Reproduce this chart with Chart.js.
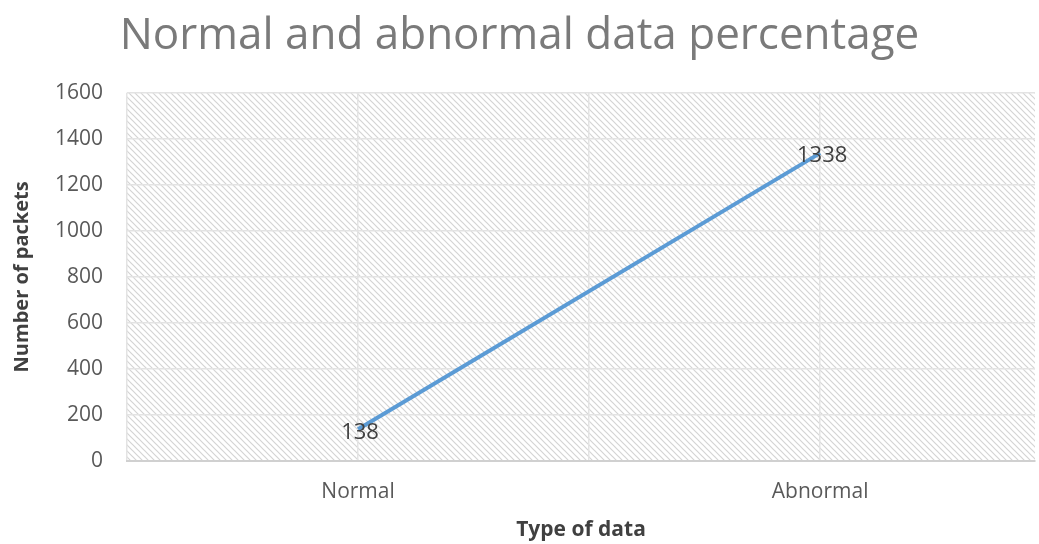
<!DOCTYPE html>
<html lang="en">
<head>
  <meta charset="UTF-8">
  <title>Normal and abnormal data percentage</title>
  <script src="https://cdn.jsdelivr.net/npm/chart.js"></script>
  <style>
    html, body { margin: 0; padding: 0; background: #fff; overflow: hidden; }
    #box { width: 1039px; height: 544px; }
  </style>
</head>
<body>
  <div id="box"><canvas id="myChart"></canvas></div>

<script>
  const categorias = ['Normal', 'Abnormal'];
  const pacotes = [138, 1338];
  const yTicks = [0, 200, 400, 600, 800, 1000, 1200, 1400, 1600];

  // fundo hachurado da area do grafico
  function criarHachura() {
    const c = document.createElement('canvas');
    c.width = 6; c.height = 6;
    const g = c.getContext('2d');
    g.fillStyle = '#ffffff';
    g.fillRect(0, 0, 6, 6);
    g.strokeStyle = '#d4d4d4';
    g.lineWidth = 1.2;
    g.beginPath();
    g.moveTo(-1, -1); g.lineTo(7, 7);
    g.moveTo(-1, 5); g.lineTo(1, 7);
    g.moveTo(5, -1); g.lineTo(7, 1);
    g.stroke();
    return g.createPattern(c, 'repeat');
  }

  const hachura = {
    id: 'hachura',
    beforeDraw(chart) {
      const a = chart.chartArea;
      const ctx = chart.ctx;
      ctx.save();
      ctx.fillStyle = criarHachura();
      ctx.fillRect(a.left, a.top, a.right - a.left, a.bottom - a.top);
      ctx.restore();
    }
  };

  // rotulos com os valores em cima dos pontos
  const rotulos = {
    id: 'rotulos',
    afterDatasetsDraw(chart) {
      const ctx = chart.ctx;
      const meta = chart.getDatasetMeta(0);
      ctx.save();
      ctx.font = '22px "Open Sans", sans-serif';
      ctx.fillStyle = '#404040';
      ctx.textAlign = 'center';
      ctx.textBaseline = 'middle';
      meta.data.forEach(function (p, i) {
        ctx.fillText(String(pacotes[i]), p.x + 2, p.y + 3);
      });
      ctx.restore();
    }
  };

  const ctx = document.getElementById('myChart');

  new Chart(ctx, {
    type: 'line',
    data: {
      datasets: [{
        label: 'Number of packets',
        data: pacotes.map(function (v, i) { return { x: i, y: v }; }),
        borderColor: '#5b9bd5',
        borderWidth: 4,
        pointRadius: 0,
        tension: 0
      }]
    },
    options: {
      responsive: true,
      maintainAspectRatio: false,
      animation: false,
      layout: { padding: { left: 4, right: 4, top: 0, bottom: 0 } },
      plugins: {
        legend: { display: false },
        tooltip: { enabled: false },
        title: {
          display: true,
          text: 'Normal and abnormal data percentage',
          color: '#7a7a7a',
          font: { family: '"Open Sans", sans-serif', size: 44, weight: 'normal' },
          padding: { top: 10, bottom: 30 }
        }
      },
      scales: {
        x: {
          type: 'linear',
          min: -0.5,
          max: 1.465, // o grafico original esta cortado na direita
          afterBuildTicks(axis) {
            axis.ticks = [-0.5, 0, 0.5, 1].map(function (v) { return { value: v }; });
          },
          grid: { color: '#e3e3e3', lineWidth: 1.5, drawTicks: false },
          border: { color: '#d0d0d0', width: 2 },
          ticks: {
            color: '#595959',
            padding: 18,
            font: { family: '"Open Sans", sans-serif', size: 21 },
            callback: function (v) {
              return Number.isInteger(v) ? categorias[v] : '';
            }
          },
          title: {
            display: true,
            text: 'Type of data',
            color: '#404040',
            font: { family: '"Open Sans", sans-serif', size: 21, weight: 'bold' },
            padding: { top: 14, bottom: 1 }
          },
          afterFit(axis) {
            axis.height = 83;
            axis.paddingLeft = 0;
            axis.paddingRight = 0;
          }
        },
        y: {
          min: 0,
          max: 1600,
          afterBuildTicks(axis) {
            axis.ticks = yTicks.map(function (v) { return { value: v }; });
          },
          grid: { color: '#e3e3e3', lineWidth: 1.5, drawTicks: false },
          border: { display: false },
          ticks: {
            color: '#595959',
            padding: 24,
            font: { family: '"Open Sans", sans-serif', size: 21 },
            callback: function (v) { return String(v); }
          },
          title: {
            display: true,
            text: 'Number of packets',
            color: '#404040',
            font: { family: '"Open Sans", sans-serif', size: 20, weight: 'bold' },
            padding: { top: 6, bottom: 6 }
          },
          afterFit(axis) { axis.width = 123; }
        }
      }
    },
    plugins: [hachura, rotulos]
  });
</script>
</body>
</html>
